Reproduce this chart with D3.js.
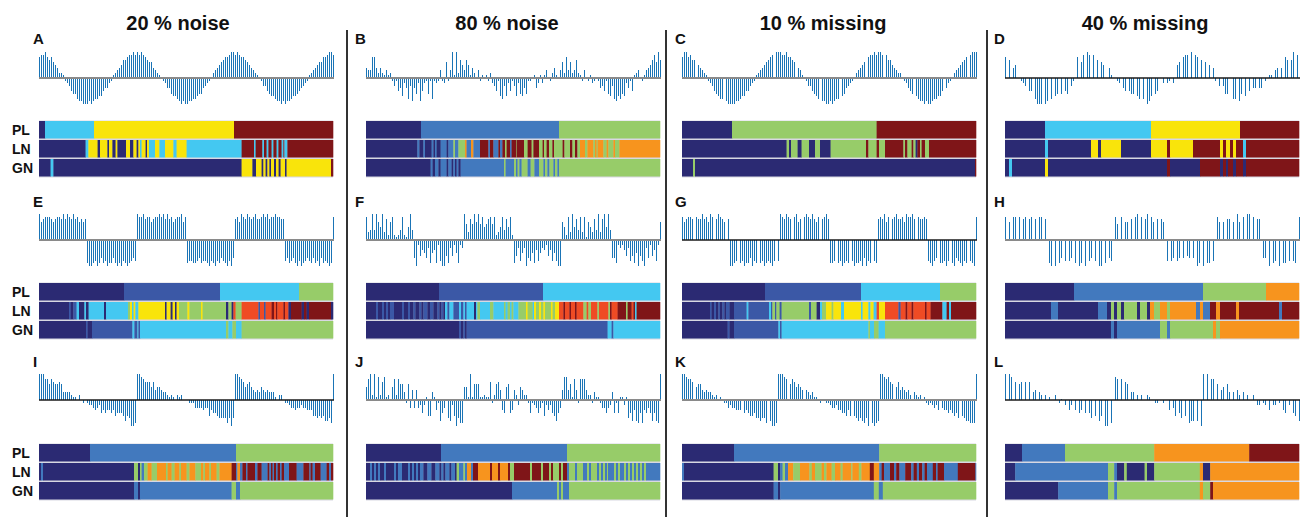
<!DOCTYPE html>
<html>
<head>
<meta charset="utf-8">
<script src="https://cdn.jsdelivr.net/npm/d3@7"></script>
<style>
  body { margin: 0; background: #fff; }
  text { font-family: 'Liberation Sans', Arial, sans-serif; font-weight: bold; fill: #111; }
</style>
</head>
<body>
<div id="vis"></div>
<script>
var _ = null; // missing observation

var titles = ['20 % noise', '80 % noise', '10 % missing', '40 % missing'];
var letters = ['A', 'B', 'C', 'D', 'E', 'F', 'G', 'H', 'I', 'J', 'K', 'L'];
var trackNames = ['PL', 'LN', 'GN'];
var states = ['nv', 'mb', 'bl', 'cy', 'gr', 'ye', 'or', 'rd', 'dr'];
var stateColors = ['#2b2a73', '#3b58a6', '#4279be', '#44c8f1', '#97cc69', '#f9e40b', '#f7941e', '#ef4b24', '#7f1518'];
var zeroLine = ['gray', 'gray', 'gray', 'black', 'gray', 'gray', 'black', 'gray', 'black', 'gray', 'gray', 'black'];

// series values (tenths of full amplitude), one per time step 0..147
var valsA = [8,9,9,10,8,7,8,6,5,4, 2,2,1,-1,-2,-3,-5,-6,-6,-8, -9,-9,-10,-10,-10,-9,-10,-9,-8,-8, -7,-7,-5,-4,-4,-2,-1,1,2,3, 4,5,7,7,8,9,9,10,9,
  10,9,10,9,8,7,6,6,4,3, 2,1,0,-1,-2,-4,-4,-6,-7,-7, -8,-9,-10,-9,-10,-10,-9,-9,-8,-8, -7,-6,-6,-4,-3,-2,-1,0,2,3, 4,5,6,7,8,8,9,10,10,
  9,10,9,8,8,7,6,5,4,3, 2,1,0,-1,-3,-3,-5,-6,-7,-7, -8,-9,-9,-10,-9,-10,-9,-9,-8,-7, -7,-6,-5,-4,-3,-2,-1,1,2,3, 4,5,6,6,8,8,9,10,10, 9];
var valsB = [4,3,3,8,8,4,2,4,2,1,3,1,2,
  -1,-3,-1,-5,-4,-7,-2,-4,-8,-3,-9,-4,-6,-2,-9,-5,-2,-1,-6,-1,-8,-1,-2,-1,
  3,-1,-2,6,-1,3,10,1,10,2,7,5,3,7,5,1,4,2,0,3,-1,1,0,1,-1,2,
  -2,-3,-5,-1,-7,-8,-3,-7,-2,-5,-1,-3,-7,-2,-6,-7,-4,-6,-1,-1,0,1,-4,-2,
  1,-2,1,3,0,-1,2,4,1,0,3,6,2,8,3,6,2,3,7,2,1,-1,3,0,
  -1,1,-2,-1,0,-1,-4,-3,-5,-1,-6,-7,-3,-8,-9,-7,-8,-6,-7,-2,-4,-1,-5,1,2,
  3,0,-1,1,3,4,5,7,9,6,10,7];
var valsC = [8,10,10,8,9,7,7,_,5,4, 3,2,1,-1,-2,-3,-5,-6,-7,-8, -8,_,-9,-10,-10,-10,-10,-9,-9,-8, -7,-7,-5,-5,-3,-2,-1,1,2,3, 4,5,6,7,8,9,_,10,10,
  10,9,9,10,8,8,7,6,_,4, 3,1,0,-1,-3,-3,-5,-6,-7,-8, _,-9,-9,-10,-10,-9,-10,-9,-8,-8, _,-7,-6,-4,-3,-2,-1,0,2,3, 4,5,6,_,8,9,9,10,9,
  10,10,9,_,9,7,7,5,4,3, 2,2,0,-1,-2,-4,-5,-6,_,-7, -8,-9,-9,-10,-9,-10,-10,-9,-8,-8, -7,-7,-5,_,-4,-2,-1,0,2,3, 4,5,6,7,8,_,9,10,10, 10];
var valsD = [8,_,7,_,4,5,_,_,-1,-2, -3,_,-5,-5,_,-8,-10,-10,-10,_, -10,-9,_,-8,_,-7,-6,_,-6,_,
  -5,-6,_,-3,-1,_,8,_,6,9, _,10,9,_,9,_,7,_,6,5, _,_,4,1,_,_,-1,-2,_,-4,
  -5,_,-5,-6,-6,_,-7,-8,_,-8, _,-10,-9,-7,_,-6,-5,_,_,-2, _,-2,-1,_,-2,_,5,6,_,8,
  9,9,_,10,_,9,8,_,7,_, 6,_,5,_,4,-1,_,-3,_,-3, -6,-6,_,_,-8,-8,_,-9,-6,_,
  -7,_,-5,_,-4,-4,_,-4,-4,_, -1,_,1,1,_,3,4,_,4,_, 8,7,_,7,10,_,9,_];
var valsE = [10,7,8,9,9,9,8,7,8,9,9,8,10,8,10,9,8,10,8,9,7,8,7,8,
  -9,-10,-10,-9,-8,-10,-9,-7,-9,-8,-10,-9,-9,-7,-9,-10,-9,-10,-8,-9,-10,-9,-8,-7,-8,
  10,9,9,10,8,9,9,7,8,9,9,10,9,10,8,10,8,9,7,8,9,9,10,7,9,
  -9,-8,-8,-9,-9,-8,-7,-9,-8,-8,-9,-10,-8,-9,-10,-8,-9,-7,-8,-9,-10,-8,-10,-7,
  8,9,7,10,9,8,10,9,8,9,10,8,8,9,10,9,10,8,9,9,10,9,9,8,8,
  -8,-7,-9,-8,-7,-9,-10,-8,-10,-9,-8,-7,-8,-9,-7,-9,-8,-10,-7,-9,-8,-9,-10,-9, 9];
var valsF = [9,3,4,10,4,10,7,5,10,3,8,2,7,9,2,1,2,4,9,2,1,5,10,4,
  -7,-10,-2,-6,-4,-5,-7,-3,-9,-5,-4,-9,-2,-8,-10,-10,-6,-9,-3,-6,-2,-5,-9,-2,-3,
  10,6,3,8,6,10,7,10,6,9,5,6,8,9,6,9,2,3,5,9,4,8,5,9,2,
  -9,-6,-3,-8,-5,-3,-10,-7,-8,-5,-9,-4,-8,-5,-3,-4,-2,-6,-4,-8,-5,-8,-10,-10,
  7,5,2,9,3,10,5,8,4,9,3,9,1,7,5,3,8,4,10,3,8,10,5,10,4,
  -7,-7,-9,-2,-3,-2,-4,-6,-3,-8,-6,-9,-5,-10,-6,-8,-10,-3,-7,-2,-6,-4,-8,-2, 7];
var valsG = [9,7,8,9,9,8,_,9,8,8,10,8,9,7,10,9,_,8,10,9,8,7,_,8,
  -10,-10,-9,-8,_,-9,-8,-10,-9,-9,-7,-10,-8,-9,_,-9,-8,-10,-9,-8,-9,-10,-8,_,-8,
  10,9,8,10,9,8,_,9,10,7,8,_,9,10,9,8,10,8,7,9,_,8,9,10,8,
  -9,-9,-8,_,-9,-8,-10,-9,-8,-9,_,-8,-10,-9,-9,-8,-10,-7,-10,-8,-9,_,-8,-9,
  8,9,8,10,7,9,_,8,9,10,8,8,9,7,10,9,9,10,8,_,9,8,8,9,8,
  -8,-9,-10,-8,-7,_,-9,-9,-8,-10,-8,_,-9,-10,-7,-8,-9,-10,-8,-9,_,-8,-9,-10, 9];
var valsH = [9,_,7,_,9,9,_,9,_,8, 9,_,8,9,_,8,_,9,9,_, 8,_,-9,-10,_,-10,_,-9,-7,_,
  -8,_,-8,-7,_,-9,_,-10,-9,_, -10,_,-8,-7,_,-8,_,-10,-10,_, -9,_,-7,-8,_,9,6,_,9,_,
  7,7,_,8,_,9,10,_,9,_, 8,10,_,9,7,_,8,_,8,7, _,-8,_,-8,-7,_,-8,-7,_,-7,
  _,-6,-7,_,-7,_,-10,-9,_,-10, _,-9,-9,_,-8,_,9,7,_,7, _,8,8,_,7,_,10,7,_,9,
  _,10,10,_,9,_,8,8,_,-7, -7,_,-10,_,-9,-8,_,-10,_,-9, -9,_,-8,_,-8,-9,_,9];
var valsI = [10,10,10,8,8,6,8,7,6,6, 7,6,3,3,3,3,2,1,1,0, 2,0,-1,0,-1,-2,-2,-3,-4,-3, -2,-5,-4,-5,-4,-4,-5,-4,-6,-5, -5,-5,-6,-8,-6,-7,-10,-10,-9,
  10,10,9,8,7,7,7,5,7,4, 5,5,4,3,3,2,1,2,1,0, 2,1,2,0,0,0,-1,-1,-1,-3, -3,-3,-3,-4,-3,-3,-6,-4,-5,-5, -6,-7,-7,-7,-7,-9,-7,-10,-7,
  10,10,9,8,7,5,6,7,5,4, 3,4,3,5,4,3,4,3,3,3, 1,0,2,2,0,-1,-1,-2,-3,-3, -4,-3,-3,-2,-3,-3,-4,-4,-4,-6, -6,-7,-6,-7,-6,-8,-8,-7,-9, 10];
var valsJ = [5,8,10,2,10,1,9,2,7,9, 1,2,0,5,8,2,8,6,6,3, -1,6,-3,4,-3,4,-3,-2,-5,-2, 1,-6,-6,3,1,-4,-1,-8,-5,-3, 0,-7,-8,-2,-6,-10,-7,-9,-9,
  5,5,1,10,1,6,6,6,1,1, 2,1,1,7,-1,2,6,7,4,-4, -5,5,6,-5,-4,4,2,-2,5,4, 2,2,-1,-5,-1,-2,-3,-5,-3,-1, -6,-2,-4,-2,-5,-6,-8,-5,-3,
  4,9,9,4,6,1,8,4,-1,8, 8,8,4,2,2,-1,3,1,1,-1, -3,-3,-5,-3,-2,3,-5,-1,-5,1, 1,-2,1,-7,-5,-8,-4,-8,-9,-5, -9,-4,-5,-3,-5,-8,-5,-8,-9, 10];
var valsK = [10,10,9,8,8,7,_,5,6,6, 4,3,4,3,3,2,1,2,0,1, _,-1,-1,-3,-2,-3,-3,-4,-4,-4, _,-5,-4,-5,-6,-6,-5,-7,-7,-8, -7,-7,-9,_,-8,-10,-10,-9,
  10,10,10,9,8,_,6,8,7,5, 6,5,4,_,4,3,2,3,1,1, 0,-1,0,_,-1,-1,-2,-3,-3,-2, -4,-4,-5,-5,-6,-4,-6,_,-6,-7, -8,-7,-8,-9,-7,-10,_,-9,-10,-9, -8,
  10,10,9,8,9,7,6,_,5,7, 4,5,4,3,4,2,_,3,2,1, 2,0,1,-1,-2,-1,-2,-3,-2,-4, _,-3,-4,-4,-5,-4,-5,-6,-5,-7, _,-6,-7,-8,-8,-9,-9,-9, 10];
var valsL = [10,_,10,9,_,7,_,6,7,_, 7,_,7,_,3,4,_,3,2,_, 2,_,1,_,_,2,_,-1,0.5,_,
  -2,_,-4,-2,_,-4,_,-5,-4,_, -5,_,-5,-7,_,-6,_,-8,-6,_, -10,-10,_,-9,_,9,8,_,8,_,
  7,6,_,3,3,_,2,_,2,_, _,2,1,_,_,-1,-1,_,_,-1, _,_,-4,_,-3,-6,_,-5,-7,_,
  -6,_,-9,-8,-8,_,-8,_,-10,10, _,10,_,8,8,_,6,_,4,5, _,6,3,_,3,_,4,2,_,3,
  _,2,_,_,2,_,-2,-2,_,-1, -2,_,-4,_,-2,-2,_,-1,_,-4, -5,_,-2,_,-5,-6,_,-8];

// state tracks: [start time, state]
var segA_PL = [[0,'nv'],[3,'cy'],[27.5,'ye'],[97.5,'dr']];
var segA_LN = [[0,'nv'],[23.3,'cy'],[24.7,'ye'],[29.3,'nv'],[30.5,'ye'],[34.2,'nv'],[35,'ye'],[36.7,'nv'],[38.3,'ye'],[39.2,'nv'],[43.5,'ye'],[45.5,'nv'],[47.2,'ye'],[48.8,'nv'],[49.7,'ye'],[50.5,'cy'],[51.3,'ye'],[53.3,'nv'],[54,'ye'],[55,'cy'],[58,'ye'],[60.2,'cy'],[63,'ye'],[67.2,'cy'],[68.8,'ye'],[73.8,'cy'],[101.3,'dr'],[107.5,'cy'],[108.3,'dr'],[111.7,'cy'],[112.5,'dr'],[113.8,'cy'],[114.7,'dr'],[116.3,'cy'],[117.2,'dr'],[118.8,'cy'],[119.7,'dr'],[121.3,'cy'],[122.2,'dr'],[122.7,'cy'],[124.2,'dr']];
var segA_GN = [[0,'nv'],[5.8,'cy'],[7.2,'nv'],[101.3,'ye'],[106.7,'nv'],[108.5,'ye'],[111.3,'nv'],[112.2,'ye'],[113.3,'nv'],[114.2,'ye'],[115.2,'nv'],[116,'ye'],[117.5,'nv'],[118.5,'ye'],[119.8,'nv'],[120.8,'ye'],[123,'nv'],[123.8,'ye'],[146,'dr']];

var segB_PL = [[0,'nv'],[27.5,'bl'],[96.5,'gr']];
var segB_LN = [[0,'nv'],[25.7,'bl'],[26.7,'nv'],[28.7,'bl'],[29.5,'nv'],[32.8,'bl'],[33.7,'nv'],[34.5,'bl'],[35.3,'nv'],[37.3,'bl'],[40.3,'nv'],[41.2,'bl'],[43.7,'gr'],[44.5,'bl'],[46.2,'gr'],[49.5,'or'],[50.3,'bl'],[52.5,'or'],[53.7,'bl'],[57,'dr'],[61.2,'bl'],[62,'dr'],[63.7,'bl'],[66.2,'dr'],[67,'bl'],[68.2,'dr'],[69.5,'gr'],[70.3,'dr'],[72,'bl'],[72.8,'dr'],[75,'gr'],[75.3,'dr'],[79,'gr'],[80.8,'dr'],[82.8,'gr'],[83.7,'dr'],[86.5,'gr'],[88.3,'dr'],[89,'gr'],[90.3,'dr'],[91.5,'gr'],[93.2,'dr'],[94,'gr'],[98.3,'dr'],[99.2,'gr'],[102,'dr'],[103.2,'gr'],[104.5,'dr'],[105.7,'gr'],[107,'or'],[109.5,'gr'],[110.7,'or'],[113.7,'gr'],[114.5,'or'],[115.3,'gr'],[115.8,'or'],[118.7,'gr'],[120.3,'or'],[121.2,'gr'],[123.7,'or'],[124.5,'gr'],[126.7,'or']];
var segB_GN = [[0,'nv'],[32.3,'bl'],[33.3,'nv'],[34.5,'bl'],[36.2,'nv'],[37.3,'bl'],[40.3,'nv'],[41.2,'bl'],[42.8,'nv'],[43.7,'bl'],[44.5,'nv'],[45.3,'bl'],[46.2,'nv'],[47.3,'bl'],[69,'gr'],[69.8,'bl'],[74,'gr'],[75,'bl'],[75.8,'gr'],[76.7,'bl'],[77.8,'gr'],[80.8,'bl'],[82.3,'gr'],[84.2,'bl'],[86.5,'gr'],[88.7,'bl'],[89.5,'gr'],[90.7,'bl'],[91.7,'gr'],[93.7,'bl'],[94.5,'gr'],[95.7,'bl'],[96.5,'gr']];

var segC_PL = [[0,'nv'],[25,'gr'],[97.3,'dr']];
var segC_LN = [[0,'nv'],[52.3,'gr'],[53.5,'nv'],[54.5,'gr'],[57.8,'nv'],[59.8,'gr'],[63.5,'nv'],[66.5,'gr'],[69,'nv'],[74.3,'gr'],[92,'dr'],[93.2,'gr'],[97.3,'dr'],[98.5,'gr'],[101.5,'dr'],[110.7,'gr'],[111.5,'dr'],[112.7,'gr'],[114.8,'dr'],[115.7,'gr'],[116.8,'nv'],[117.7,'dr'],[119,'gr'],[119.8,'dr'],[121.5,'gr'],[123.5,'dr']];
var segC_GN = [[0,'nv'],[5.5,'gr'],[6.5,'nv'],[146.5,'dr']];

var segD_PL = [[0,'nv'],[20,'cy'],[73,'ye'],[117.5,'dr']];
var segD_LN = [[0,'nv'],[20,'cy'],[21.5,'nv'],[43,'ye'],[46.5,'nv'],[48,'ye'],[58,'nv'],[73,'ye'],[81,'dr'],[82.5,'ye'],[94,'dr'],[107.5,'ye'],[109,'dr'],[110.5,'ye'],[112.5,'dr'],[114,'ye'],[115.5,'dr'],[119,'cy'],[120.5,'dr']];
var segD_GN = [[0,'nv'],[2,'cy'],[3.5,'nv'],[20,'ye'],[21.5,'nv'],[81,'dr'],[82.5,'nv'],[97.5,'dr'],[107.5,'nv'],[109,'dr'],[110.5,'nv'],[111.5,'dr'],[114,'nv'],[115.5,'dr'],[119,'nv'],[120.5,'dr']];

var segE_PL = [[0,'nv'],[42.5,'mb'],[90.5,'cy'],[130,'gr']];
var segE_LN = [[0,'nv'],[15,'mb'],[15.8,'nv'],[17.2,'mb'],[18.8,'cy'],[20,'nv'],[22.7,'cy'],[23.5,'nv'],[24.8,'cy'],[32.5,'nv'],[33.5,'cy'],[44.5,'gr'],[45.5,'ye'],[46.5,'cy'],[47.3,'ye'],[48.2,'cy'],[49.7,'ye'],[63,'nv'],[63.8,'ye'],[65.8,'nv'],[66.8,'ye'],[68,'nv'],[68.8,'ye'],[70,'gr'],[74.2,'ye'],[75.2,'gr'],[81,'ye'],[81.8,'gr'],[93.5,'nv'],[94.7,'gr'],[96.3,'nv'],[97.2,'rd'],[98.3,'gr'],[101.3,'rd'],[109.7,'mb'],[110.5,'rd'],[112.5,'mb'],[113.3,'rd'],[116.3,'dr'],[117.5,'rd'],[118.5,'dr'],[119.2,'rd'],[122.2,'dr'],[123,'rd'],[124.7,'nv'],[126,'dr'],[131.3,'nv'],[132.5,'dr'],[133.8,'nv'],[135,'dr'],[146,'nv']];
var segE_GN = [[0,'nv'],[23.5,'mb'],[24.3,'nv'],[26.5,'mb'],[46.7,'cy'],[47.7,'mb'],[49.2,'cy'],[49.7,'mb'],[50.5,'cy'],[93.5,'gr'],[94.7,'cy'],[96.7,'gr'],[98.5,'cy'],[101.3,'gr']];

var segF_PL = [[0,'nv'],[36.5,'mb'],[88.5,'cy']];
var segF_LN = [[0,'nv'],[5,'mb'],[6,'nv'],[8,'mb'],[9,'nv'],[10,'mb'],[11,'nv'],[12,'mb'],[14,'nv'],[18,'mb'],[19,'nv'],[21,'mb'],[22,'nv'],[23.7,'mb'],[24.7,'nv'],[26.7,'mb'],[27.7,'nv'],[28.7,'mb'],[30.7,'nv'],[32,'mb'],[33.7,'nv'],[35.7,'mb'],[36.7,'nv'],[37.7,'mb'],[38.7,'nv'],[39.5,'cy'],[40.7,'mb'],[41.7,'cy'],[43.7,'mb'],[46.5,'cy'],[47.5,'mb'],[48.7,'cy'],[49.5,'mb'],[50.3,'cy'],[54,'nv'],[55,'cy'],[55.7,'gr'],[57,'cy'],[62,'gr'],[63.7,'cy'],[69,'gr'],[69.8,'cy'],[70.8,'gr'],[72,'cy'],[72.8,'gr'],[73.7,'cy'],[76.2,'gr'],[80,'ye'],[80.8,'gr'],[83.3,'cy'],[84,'ye'],[85,'gr'],[86.5,'ye'],[87.5,'gr'],[88.7,'ye'],[89.5,'gr'],[92.5,'ye'],[93.3,'gr'],[94.5,'ye'],[96.5,'rd'],[98.7,'dr'],[99.5,'rd'],[101.7,'dr'],[102.5,'rd'],[104.5,'dr'],[105.3,'rd'],[108.7,'gr'],[110.3,'rd'],[111.2,'gr'],[112.5,'rd'],[115.7,'gr'],[116.5,'rd'],[121.2,'gr'],[122,'dr'],[122.8,'rd'],[125.8,'dr'],[130,'gr'],[130.8,'dr'],[132.8,'rd'],[133.7,'dr'],[134.5,'cy'],[135.3,'dr']];
var segF_GN = [[0,'nv'],[46.5,'mb'],[47.5,'nv'],[48.7,'mb'],[49.5,'nv'],[50.3,'mb'],[120.8,'cy'],[122.8,'mb'],[123.7,'cy']];

var segG_PL = [[0,'nv'],[41.5,'mb'],[89.5,'cy'],[129,'gr']];
var segG_LN = [[0,'nv'],[14,'mb'],[14.8,'nv'],[16,'mb'],[17,'nv'],[18.2,'mb'],[19,'nv'],[20.2,'mb'],[21.2,'nv'],[22,'mb'],[23.8,'nv'],[26,'mb'],[32.3,'cy'],[33.2,'mb'],[43.5,'cy'],[44.5,'mb'],[45.2,'gr'],[46.5,'mb'],[47.2,'gr'],[48.8,'mb'],[49.8,'gr'],[63.5,'mb'],[64.5,'gr'],[67.3,'nv'],[69,'cy'],[70,'gr'],[72,'ye'],[74.8,'gr'],[75.7,'ye'],[79.5,'cy'],[81,'ye'],[89.5,'cy'],[90.3,'ye'],[93.2,'cy'],[94.2,'ye'],[95.8,'cy'],[97.3,'rd'],[98.5,'ye'],[101.5,'rd'],[108.2,'mb'],[109.3,'rd'],[111.8,'dr'],[112.7,'rd'],[114.8,'dr'],[115.7,'rd'],[121.5,'dr'],[122.3,'rd'],[124.3,'dr'],[130.2,'cy'],[132.3,'dr'],[133.5,'cy'],[134.5,'dr']];
var segG_GN = [[0,'nv'],[22.8,'mb'],[23.8,'nv'],[26,'mb'],[48.2,'cy'],[49,'mb'],[49.8,'cy'],[93.2,'gr'],[94,'cy'],[96,'gr'],[98.3,'cy'],[101.5,'gr']];

var segH_PL = [[0,'nv'],[34.5,'bl'],[99,'gr'],[130.5,'or']];
var segH_LN = [[0,'nv'],[23,'bl'],[26.5,'nv'],[46.5,'bl'],[51,'nv'],[53,'gr'],[54.5,'nv'],[56,'gr'],[58,'nv'],[59.5,'gr'],[66,'nv'],[67.5,'gr'],[71,'nv'],[72.5,'or'],[74.5,'gr'],[77.5,'or'],[81,'gr'],[82.5,'or'],[95.5,'bl'],[97.5,'or'],[99,'bl'],[102.5,'dr'],[105.5,'or'],[107.5,'dr'],[115.5,'or'],[117,'dr'],[137,'bl'],[138.5,'dr']];
var segH_GN = [[0,'nv'],[53,'bl'],[54.5,'nv'],[56,'bl'],[77.5,'gr'],[81,'bl'],[82.5,'gr'],[104,'or'],[105.5,'gr'],[107.5,'or']];

var segI_PL = [[0,'nv'],[25.5,'bl'],[98.5,'gr']];
var segI_LN = [[0,'nv'],[1,'bl'],[2,'nv'],[47.5,'gr'],[49.5,'nv'],[50.5,'gr'],[51.3,'bl'],[52.5,'gr'],[54.3,'or'],[56.3,'gr'],[59,'or'],[63.5,'gr'],[64.3,'or'],[66.3,'gr'],[67.8,'or'],[70.2,'gr'],[71,'or'],[73.8,'gr'],[75.2,'or'],[78.2,'gr'],[81,'or'],[82.2,'gr'],[83,'or'],[85.2,'gr'],[86,'or'],[88.8,'gr'],[90.2,'or'],[96.3,'dr'],[98.5,'bl'],[99.2,'or'],[100.5,'bl'],[101.7,'dr'],[103.5,'bl'],[104.2,'dr'],[108,'bl'],[109.2,'dr'],[111.3,'bl'],[114.3,'dr'],[115.2,'bl'],[116,'dr'],[116.8,'bl'],[117.5,'dr'],[118.5,'bl'],[119.3,'dr'],[120.5,'bl'],[121.3,'dr'],[122.5,'bl'],[125,'dr'],[128.8,'bl'],[132.2,'dr'],[135.2,'bl'],[135.8,'dr'],[136.8,'bl'],[138,'dr'],[140.8,'bl'],[143.8,'dr'],[145,'bl'],[146,'dr']];
var segI_GN = [[0,'nv'],[47.5,'bl'],[49.5,'nv'],[50.5,'bl'],[96.3,'gr'],[98.5,'bl'],[100.5,'gr']];

var segJ_PL = [[0,'nv'],[37.5,'bl'],[100.5,'gr']];
var segJ_LN = [[0,'nv'],[2,'bl'],[3,'nv'],[4,'bl'],[5,'nv'],[6,'bl'],[7,'nv'],[9,'bl'],[10,'nv'],[14,'bl'],[15,'nv'],[16,'bl'],[18,'nv'],[21,'bl'],[22,'nv'],[23,'bl'],[24,'nv'],[25,'bl'],[26,'nv'],[27,'bl'],[28.7,'nv'],[30.7,'bl'],[32.7,'nv'],[34.7,'bl'],[36.7,'nv'],[37.7,'bl'],[38.7,'nv'],[39.7,'bl'],[41.7,'nv'],[42.7,'bl'],[44.5,'nv'],[45.3,'gr'],[46.5,'bl'],[48.7,'gr'],[49.5,'bl'],[50.5,'or'],[52.5,'bl'],[53.5,'dr'],[56,'or'],[62,'dr'],[63,'or'],[66,'dr'],[67,'or'],[71,'dr'],[72,'gr'],[74,'dr'],[82,'gr'],[83,'dr'],[87.5,'gr'],[88.5,'dr'],[91.5,'gr'],[92.5,'dr'],[93.5,'gr'],[96.5,'dr'],[97.5,'gr'],[98.5,'dr'],[100.5,'bl'],[101.5,'gr'],[104.5,'bl'],[105.5,'gr'],[108.5,'bl'],[110.5,'gr'],[111.5,'bl'],[112.5,'gr'],[115.5,'bl'],[116.5,'gr'],[117.5,'bl'],[118.5,'gr'],[119.5,'bl'],[120.5,'gr'],[121,'bl'],[124,'gr'],[125,'bl'],[126,'gr'],[127,'bl'],[129,'gr'],[130,'bl'],[131,'gr'],[132,'bl'],[133,'gr'],[134,'bl'],[135,'gr'],[136,'bl'],[137,'gr'],[138,'bl'],[139,'gr'],[140,'bl']];
var segJ_GN = [[0,'nv'],[73,'bl'],[95.5,'gr'],[96.5,'bl'],[97.5,'gr'],[98.5,'bl'],[101.5,'gr']];

var segK_PL = [[0,'nv'],[26,'bl'],[98.6,'gr']];
var segK_LN = [[0,'bl'],[1,'nv'],[45.8,'gr'],[48,'nv'],[49.1,'bl'],[50.3,'gr'],[51.5,'bl'],[53,'or'],[55.6,'gr'],[59,'or'],[63.7,'gr'],[64.9,'or'],[66.5,'gr'],[69.8,'or'],[71,'gr'],[72.2,'or'],[74.8,'gr'],[76.5,'or'],[79.3,'gr'],[80.3,'or'],[84.6,'gr'],[85.2,'or'],[88.4,'gr'],[89.7,'or'],[93.9,'dr'],[95.9,'or'],[98.6,'bl'],[99.8,'dr'],[101,'bl'],[104,'dr'],[106,'bl'],[107.1,'dr'],[108.7,'bl'],[111.6,'dr'],[114.6,'bl'],[115.8,'dr'],[117.4,'bl'],[118.5,'dr'],[120.1,'bl'],[121.3,'dr'],[122.5,'bl'],[125.4,'dr'],[127,'bl'],[127.8,'dr'],[131,'bl'],[137.9,'dr'],[146.7,'bl']];
var segK_GN = [[0,'nv'],[45.8,'bl'],[48,'nv'],[49.1,'bl'],[95.9,'gr'],[98.4,'bl'],[100.4,'gr']];

var segL_PL = [[0,'nv'],[8.5,'bl'],[30,'gr'],[74.6,'or'],[122.1,'dr']];
var segL_LN = [[0,'nv'],[5.1,'bl'],[51.5,'gr'],[54.6,'bl'],[56,'nv'],[59.6,'gr'],[60.9,'nv'],[69.8,'gr'],[71,'nv'],[74.6,'gr'],[97.4,'or'],[99,'nv'],[102.6,'or']];
var segL_GN = [[0,'nv'],[26.6,'bl'],[51.5,'gr'],[54.6,'bl'],[56,'gr'],[97.4,'or'],[99,'gr'],[102.6,'dr'],[104,'or']];

// ---- layout ----
var width = 1301, height = 517;
var colLeft = [39, 366, 682, 1005];
var plotWidth = 294;
var titleX = [178, 507, 823, 1145];
var letterX = [33, 355, 675, 994];
var letterY = [44, 207, 367];
var zeroY = [78, 240, 400];
var amp = 26;
var barTop = [121, 283, 444];
var barStep = 19, barH = 17.5;
var sepX = [347, 666, 987];
var tMax = 147;

var allVals = [valsA, valsB, valsC, valsD, valsE, valsF, valsG, valsH, valsI, valsJ, valsK, valsL];
var allSegs = [
  [segA_PL, segA_LN, segA_GN], [segB_PL, segB_LN, segB_GN], [segC_PL, segC_LN, segC_GN], [segD_PL, segD_LN, segD_GN],
  [segE_PL, segE_LN, segE_GN], [segF_PL, segF_LN, segF_GN], [segG_PL, segG_LN, segG_GN], [segH_PL, segH_LN, segH_GN],
  [segI_PL, segI_LN, segI_GN], [segJ_PL, segJ_LN, segJ_GN], [segK_PL, segK_LN, segK_GN], [segL_PL, segL_LN, segL_GN]
];

var colorScale = d3.scaleOrdinal().domain(states).range(stateColors);

var svg = d3.select('#vis')
    .append('svg')
    .attr('width', width)
    .attr('height', height);

svg.selectAll('.title')
    .data(titles)
    .enter().append('text')
    .attr('class', 'title')
    .attr('x', (d, i) => titleX[i])
    .attr('y', 30)
    .attr('text-anchor', 'middle')
    .style('font-size', '20px')
    .text(d => d);

svg.selectAll('.sep')
    .data(sepX)
    .enter().append('line')
    .attr('x1', d => d).attr('x2', d => d)
    .attr('y1', 30).attr('y2', height)
    .attr('stroke', '#333')
    .attr('stroke-width', 2);

// track labels on the left of the first column
[0, 1, 2].forEach(function(r) {
    trackNames.forEach(function(name, k) {
        svg.append('text')
            .attr('x', 12)
            .attr('y', barTop[r] + k * barStep + barH / 2)
            .attr('dy', '0.36em')
            .style('font-size', '14px')
            .text(name);
    });
});

var drawPanel = function(p) {
    var col = p % 4, row = Math.floor(p / 4);
    var vals = allVals[p];

    var xScale = d3.scaleLinear().domain([0, tMax]).range([colLeft[col], colLeft[col] + plotWidth]);
    var yScale = d3.scaleLinear().domain([-10, 10]).range([zeroY[row] + amp, zeroY[row] - amp]);

    var g = svg.append('g').attr('class', 'panel');

    g.append('text')
        .attr('x', letterX[col])
        .attr('y', letterY[row])
        .style('font-size', '15px')
        .text(letters[p]);

    var pts = vals.map((v, i) => ({t: i, v: v})).filter(d => d.v !== null);

    // one crisp pixel column per observation
    g.selectAll('.spike')
        .data(pts)
        .enter().append('line')
        .attr('class', 'spike')
        .attr('x1', d => Math.round(xScale(d.t)) + 0.5)
        .attr('x2', d => Math.round(xScale(d.t)) + 0.5)
        .attr('y1', yScale(0)).attr('y2', d => yScale(d.v))
        .attr('stroke', '#1a74b6')
        .attr('stroke-width', 1)
        .attr('shape-rendering', 'crispEdges');

    var gray = zeroLine[p] === 'gray';
    g.append('line')
        .attr('x1', xScale(0)).attr('x2', xScale(tMax) + 1)
        .attr('y1', yScale(0)).attr('y2', yScale(0))
        .attr('stroke', gray ? '#8a8a8a' : '#1a1a1a')
        .attr('stroke-width', gray ? 2 : 1.4);

    // light backing shows through as thin separators between the tracks
    g.append('rect')
        .attr('x', xScale(0))
        .attr('y', barTop[row] - 0.5)
        .attr('width', xScale(tMax) - xScale(0))
        .attr('height', barStep * 2 + barH + 1.5)
        .attr('fill', '#d8d8e2');

    allSegs[p].forEach(function(segs, k) {
        var spans = segs.map((s, j) => ({
            start: s[0],
            end: j < segs.length - 1 ? segs[j + 1][0] : tMax,
            state: s[1]
        }));
        g.selectAll('.seg' + k)
            .data(spans)
            .enter().append('rect')
            .attr('x', d => xScale(d.start))
            .attr('y', barTop[row] + k * barStep)
            .attr('width', d => Math.max(0, xScale(d.end) - xScale(d.start)) + 0.3)
            .attr('height', barH)
            .attr('fill', d => colorScale(d.state));
    });
};

d3.range(12).forEach(drawPanel);
</script>
</body>
</html>
